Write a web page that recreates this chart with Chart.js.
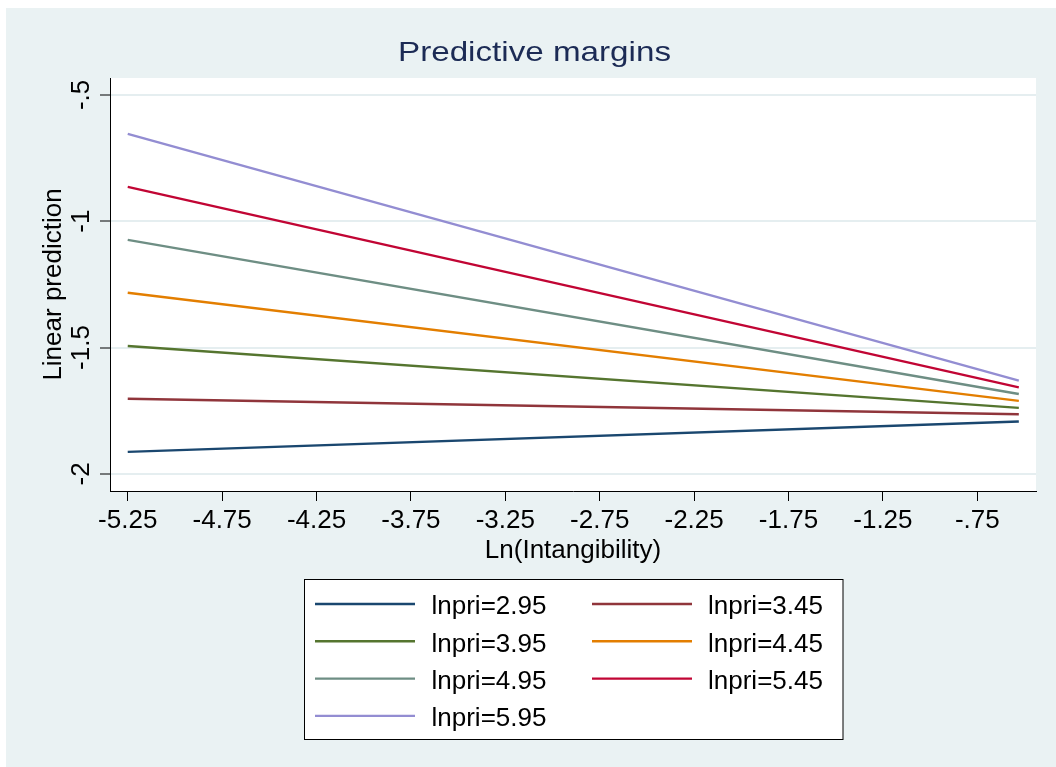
<!DOCTYPE html>
<html><head><meta charset="utf-8">
<script src="https://cdn.jsdelivr.net/npm/chart.js@4.4.1/dist/chart.umd.min.js"></script>
<style>html,body{margin:0;padding:0;background:#fff;} canvas{display:block;}</style>
</head><body>
<canvas id="c" width="1056" height="767"></canvas>
<script>
// ---- data ----
const xValues = [-5.25, -0.53];
const seriesLabels = ['lnpri=2.95','lnpri=3.45','lnpri=3.95','lnpri=4.45','lnpri=4.95','lnpri=5.45','lnpri=5.95'];
const lnpri295 = [-1.913, -1.793];
const lnpri345 = [-1.703, -1.764];
const lnpri395 = [-1.494, -1.739];
const lnpri445 = [-1.283, -1.711];
const lnpri495 = [-1.074, -1.684];
const lnpri545 = [-0.864, -1.658];
const lnpri595 = [-0.654, -1.631];
const seriesColors = ['#1a476f','#90353b','#55752f','#e37e00','#6e8e84','#c10534','#938dd2'];
const xTicks = [-5.25,-4.75,-4.25,-3.75,-3.25,-2.75,-2.25,-1.75,-1.25,-0.75];
const xTickLabels = ['-5.25','-4.75','-4.25','-3.75','-3.25','-2.75','-2.25','-1.75','-1.25','-.75'];
const yTicks = [-2,-1.5,-1,-0.5];
const yTickLabels = ['-2','-1.5','-1','-.5'];
const chartTitle = 'Predictive margins';
const xTitle = 'Ln(Intangibility)';
const yTitle = 'Linear prediction';

const FONT = "'Liberation Sans', Arial, Helvetica, sans-serif";
Chart.defaults.font.family = FONT;

const seriesValues = [lnpri295, lnpri345, lnpri395, lnpri445, lnpri495, lnpri545, lnpri595];
const datasets = seriesValues.map((vals, i) => ({
  label: seriesLabels[i],
  data: xValues.map((x, j) => ({x: x, y: vals[j]})),
  borderColor: seriesColors[i],
  backgroundColor: seriesColors[i],
  borderWidth: 2.4,
  pointRadius: 0,
  tension: 0,
  fill: false
}));

const bgPlugin = {
  id: 'bg',
  beforeDraw(chart) {
    const ctx = chart.ctx, a = chart.chartArea;
    ctx.save();
    ctx.fillStyle = '#ffffff';
    ctx.fillRect(0, 0, chart.width, chart.height);
    ctx.fillStyle = '#eaf2f3';
    ctx.fillRect(6, 8, chart.width - 6, chart.height - 8);
    ctx.fillStyle = '#ffffff';
    ctx.fillRect(a.left, a.top, a.right - a.left, a.bottom - a.top);
    ctx.restore();
  }
};

const decorPlugin = {
  id: 'decor',
  afterDraw(chart) {
    const ctx = chart.ctx;
    ctx.save();
    // title
    ctx.font = '28px ' + FONT;
    ctx.fillStyle = '#1c2b55';
    ctx.textAlign = 'center';
    ctx.textBaseline = 'alphabetic';
    const w = ctx.measureText(chartTitle).width;
    const sx = 273 / w;
    ctx.save();
    ctx.translate(534.5, 61);
    ctx.scale(sx, 1);
    ctx.fillText(chartTitle, 0, 0);
    ctx.restore();
    // y tick labels (rotated)
    const ys = chart.scales.y;
    ctx.fillStyle = '#000';
    ctx.font = '26px ' + FONT;
    yTicks.forEach((v, i) => {
      const py = ys.getPixelForValue(v);
      ctx.save();
      ctx.translate(89, py);
      ctx.rotate(-Math.PI / 2);
      ctx.textAlign = 'center';
      ctx.textBaseline = 'alphabetic';
      ctx.fillText(yTickLabels[i], 0, 0);
      ctx.restore();
    });
    // legend
    const L = 304.5, T = 579.5, R = 843, B = 739.5;
    ctx.fillStyle = '#ffffff';
    ctx.fillRect(L, T, R - L, B - T);
    ctx.strokeStyle = '#000';
    ctx.lineWidth = 1;
    ctx.strokeRect(L, T, R - L, B - T);
    chart.data.datasets.forEach((ds, i) => {
      const col = i % 2, row = Math.floor(i / 2);
      const y = 604 + row * 37.3;
      const x0 = col === 0 ? 315 : 592;
      const tx = col === 0 ? 431.5 : 708;
      ctx.strokeStyle = ds.borderColor;
      ctx.lineWidth = 2.4;
      ctx.beginPath();
      ctx.moveTo(x0, y);
      ctx.lineTo(x0 + 100, y);
      ctx.stroke();
      ctx.fillStyle = '#000';
      ctx.textAlign = 'left';
      ctx.textBaseline = 'alphabetic';
      ctx.fillText(ds.label, tx, y + 10.3);
    });
    ctx.restore();
  }
};

new Chart(document.getElementById('c'), {
  type: 'line',
  data: { datasets: datasets },
  plugins: [bgPlugin, decorPlugin],
  options: {
    responsive: false,
    animation: false,
    devicePixelRatio: 1,
    layout: { padding: { left: 0, right: 20, top: 78, bottom: 0 } },
    plugins: { legend: { display: false }, title: { display: false }, tooltip: { enabled: false } },
    scales: {
      x: {
        type: 'linear',
        min: -5.344,
        max: -0.439,
        afterBuildTicks(scale) { scale.ticks = xTicks.map(v => ({ value: v })); },
        afterFit(scale) { scale.height = 276; },
        ticks: {
          autoSkip: false,
          maxRotation: 0,
          minRotation: 0,
          color: '#000',
          font: { size: 26 },
          padding: 4,
          callback: function(value, index) { return xTickLabels[index]; }
        },
        grid: { drawOnChartArea: false, drawTicks: true, tickLength: 10, tickColor: '#000', tickWidth: 1 },
        border: { display: true, color: '#000', width: 1 },
        title: { display: true, text: xTitle, color: '#000', font: { size: 26 }, padding: { top: 0, bottom: 201 } }
      },
      y: {
        type: 'linear',
        min: -2.068,
        max: -0.433,
        afterBuildTicks(scale) { scale.ticks = yTicks.map(v => ({ value: v })); },
        afterFit(scale) { scale.width = 110; },
        ticks: { display: false },
        grid: { color: '#e5eef0', lineWidth: 2, drawTicks: true, tickLength: 10, tickColor: '#000', tickWidth: 1 },
        border: { display: true, color: '#000', width: 1 },
        title: { display: true, text: yTitle, color: '#000', font: { size: 26 }, padding: { top: 38, bottom: 0 } }
      }
    }
  }
});
</script>
</body></html>
